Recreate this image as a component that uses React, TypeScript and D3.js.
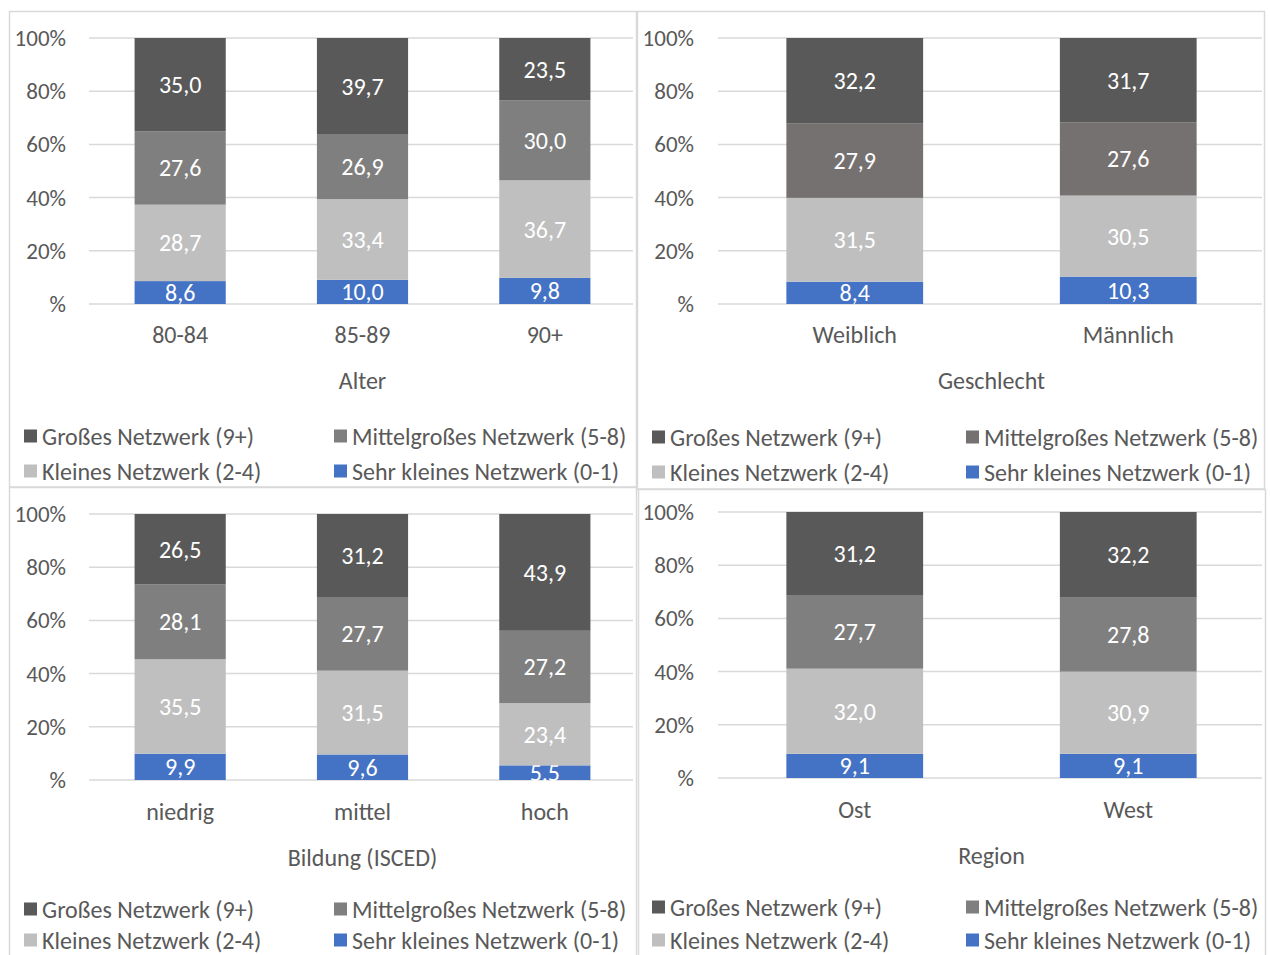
import React from "react";
import * as d3 from "d3";

const seriesKeys = ["sehr", "klein", "mittel", "gross"];
const seriesNames = [
  "Sehr kleines Netzwerk (0-1)",
  "Kleines Netzwerk (2-4)",
  "Mittelgroßes Netzwerk (5-8)",
  "Großes Netzwerk (9+)",
];
const tickValues = [0, 0.2, 0.4, 0.6, 0.8, 1];
const tickLabels = ["%", "20%", "40%", "60%", "80%", "100%"];

const ageCategories = ["80-84", "85-89", "90+"];
const ageGross = [35.0, 39.7, 23.5];
const ageMittel = [27.6, 26.9, 30.0];
const ageKlein = [28.7, 33.4, 36.7];
const ageSehr = [8.6, 10.0, 9.8];

const sexCategories = ["Weiblich", "Männlich"];
const sexGross = [32.2, 31.7];
const sexMittel = [27.9, 27.6];
const sexKlein = [31.5, 30.5];
const sexSehr = [8.4, 10.3];

const eduCategories = ["niedrig", "mittel", "hoch"];
const eduGross = [26.5, 31.2, 43.9];
const eduMittel = [28.1, 27.7, 27.2];
const eduKlein = [35.5, 31.5, 23.4];
const eduSehr = [9.9, 9.6, 5.5];

const regCategories = ["Ost", "West"];
const regGross = [31.2, 32.2];
const regMittel = [27.7, 27.8];
const regKlein = [32.0, 30.9];
const regSehr = [9.1, 9.1];

const FONT = "Carlito, Lato, 'Open Sans', sans-serif";
const TXT = "#595959";
const GRID = "#d9d9d9";

type PanelProps = {
  title: string;
  categories: string[];
  gross: number[];
  mittel: number[];
  klein: number[];
  sehr: number[];
  colors: Record<string, string>;
  border: [number, number, number, number];
  plotX: [number, number];
  plotY: [number, number];
  tickRight: number;
  catY: number;
  titleY: number;
  legendX: [number, number];
  legendY: [number, number];
};

function fmt(v: number) {
  return v.toFixed(1).replace(".", ",");
}

function Panel(p: PanelProps) {
  const rows = p.categories.map((c, i) => ({
    cat: c,
    sehr: p.sehr[i],
    klein: p.klein[i],
    mittel: p.mittel[i],
    gross: p.gross[i],
  }));
  const x = d3.scaleBand<string>().domain(p.categories).range(p.plotX).paddingInner(0.5).paddingOuter(0.25);
  const y = d3.scaleLinear().domain([0, 1]).range([p.plotY[1], p.plotY[0]]);
  const stack = d3.stack<any>().keys(seriesKeys).offset(d3.stackOffsetExpand);
  const layers = stack(rows);
  const legendItems = [
    { key: "gross", name: seriesNames[3], col: 0, row: 0 },
    { key: "mittel", name: seriesNames[2], col: 1, row: 0 },
    { key: "klein", name: seriesNames[1], col: 0, row: 1 },
    { key: "sehr", name: seriesNames[0], col: 1, row: 1 },
  ];
  const [bx, by, bw, bh] = p.border;
  return (
    <g fontFamily={FONT}>
      <rect x={bx} y={by} width={bw} height={bh} fill="#fff" stroke={GRID} strokeWidth={1.5} />
      {tickValues.map((t, i) => (
        <g key={t}>
          <line x1={p.plotX[0]} x2={p.plotX[1] - 3} y1={y(t)} y2={y(t)} stroke={GRID} strokeWidth={1.5} />
          <text x={p.tickRight} y={y(t)} textAnchor="end" dominantBaseline="central" fontSize={23} fill={TXT}>
            {tickLabels[i]}
          </text>
        </g>
      ))}
      {layers.map((layer) => (
        <g key={layer.key}>
          {layer.map((d, j) => {
            const x0 = x(p.categories[j])!;
            const top = y(d[1]);
            const bot = y(d[0]);
            const v = (d.data as any)[layer.key];
            return (
              <g key={j}>
                <rect x={x0} y={top} width={x.bandwidth()} height={bot - top} fill={p.colors[layer.key]} />
                <text
                  x={x0 + x.bandwidth() / 2}
                  y={(top + bot) / 2}
                  textAnchor="middle"
                  dominantBaseline="central"
                  fontSize={24}
                  fill="#fff"
                >
                  {fmt(v)}
                </text>
              </g>
            );
          })}
        </g>
      ))}
      {p.categories.map((c) => (
        <text key={c} x={x(c)! + x.bandwidth() / 2} y={p.catY} textAnchor="middle" dominantBaseline="central" fontSize={24} fill={TXT}>
          {c}
        </text>
      ))}
      <text x={(p.plotX[0] + p.plotX[1]) / 2} y={p.titleY} textAnchor="middle" dominantBaseline="central" fontSize={24} fill={TXT}>
        {p.title}
      </text>
      {legendItems.map((it) => {
        const lx = p.legendX[it.col];
        const ly = p.legendY[it.row];
        return (
          <g key={it.key}>
            <rect x={lx} y={ly - 6.5} width={13} height={13} fill={p.colors[it.key]} />
            <text x={lx + 18} y={ly} dominantBaseline="central" fontSize={24} fill={TXT}>
              {it.name}
            </text>
          </g>
        );
      })}
    </g>
  );
}

const grayColors = { gross: "#595959", mittel: "#7f7f7f", klein: "#bfbfbf", sehr: "#4472c4" };
const warmColors = { gross: "#595959", mittel: "#767171", klein: "#bfbfbf", sehr: "#4472c4" };

export default function App() {
  return (
    <svg width={1270} height={955} style={{ position: "absolute", left: 0, top: 0, background: "#fff" }}>
      <rect width={1270} height={955} fill="#fff" />
      <Panel
        title="Alter"
        categories={ageCategories}
        gross={ageGross}
        mittel={ageMittel}
        klein={ageKlein}
        sehr={ageSehr}
        colors={grayColors}
        border={[9.5, 11.5, 627, 475.5]}
        plotX={[89, 636]}
        plotY={[38, 304]}
        tickRight={66}
        catY={334}
        titleY={380}
        legendX={[24, 334]}
        legendY={[436, 471]}
      />
      <Panel
        title="Geschlecht"
        categories={sexCategories}
        gross={sexGross}
        mittel={sexMittel}
        klein={sexKlein}
        sehr={sexSehr}
        colors={warmColors}
        border={[637.5, 11.5, 627, 477.5]}
        plotX={[718, 1265]}
        plotY={[38, 304]}
        tickRight={694}
        catY={334}
        titleY={380}
        legendX={[652, 966]}
        legendY={[437, 472]}
      />
      <Panel
        title="Bildung (ISCED)"
        categories={eduCategories}
        gross={eduGross}
        mittel={eduMittel}
        klein={eduKlein}
        sehr={eduSehr}
        colors={grayColors}
        border={[9.5, 487.5, 627, 480]}
        plotX={[89, 636]}
        plotY={[514, 780]}
        tickRight={66}
        catY={811}
        titleY={857}
        legendX={[24, 334]}
        legendY={[909, 940]}
      />
      <Panel
        title="Region"
        categories={regCategories}
        gross={regGross}
        mittel={regMittel}
        klein={regKlein}
        sehr={regSehr}
        colors={grayColors}
        border={[638.5, 489.5, 627, 480]}
        plotX={[718, 1265]}
        plotY={[512, 778]}
        tickRight={694}
        catY={809}
        titleY={855}
        legendX={[652, 966]}
        legendY={[907, 940]}
      />
    </svg>
  );
}
